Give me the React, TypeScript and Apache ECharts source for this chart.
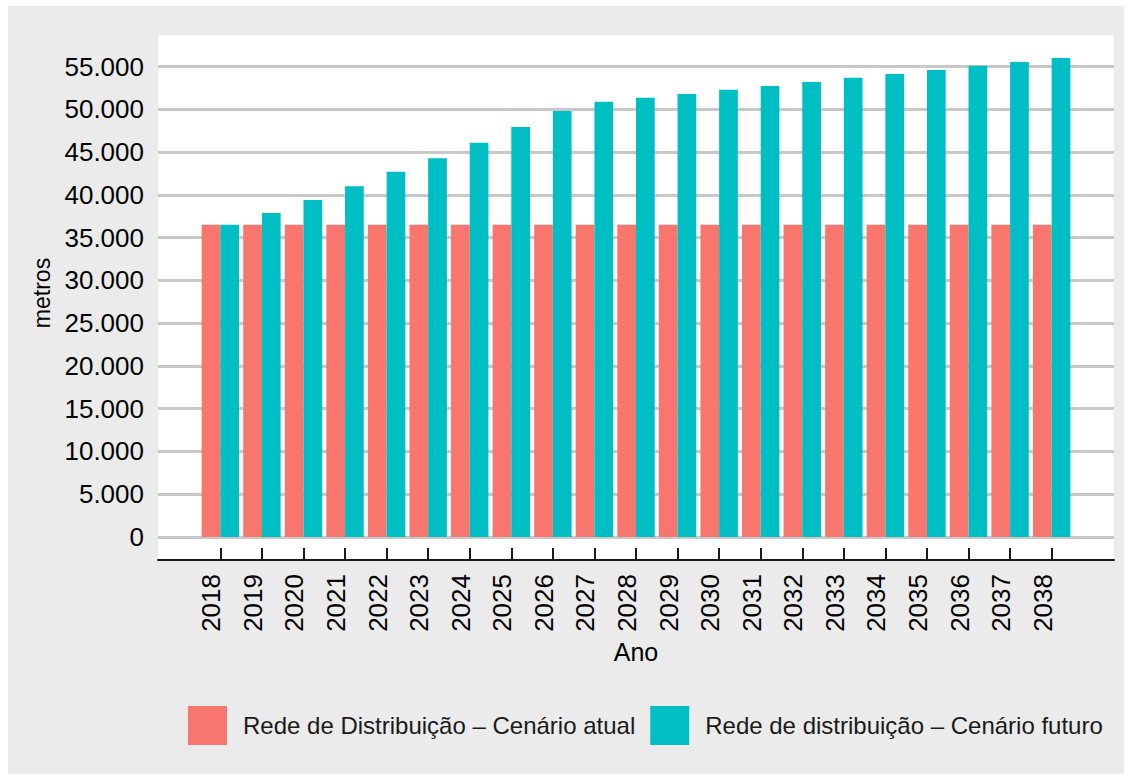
import React, { useEffect, useRef } from "react";
import * as echarts from "echarts";

const years = [
  "2018", "2019", "2020", "2021", "2022", "2023", "2024", "2025", "2026", "2027", "2028",
  "2029", "2030", "2031", "2032", "2033", "2034", "2035", "2036", "2037", "2038",
];
const cenarioAtual = [
  36500, 36500, 36500, 36500, 36500, 36500, 36500, 36500, 36500, 36500, 36500,
  36500, 36500, 36500, 36500, 36500, 36500, 36500, 36500, 36500, 36500,
];
const cenarioFuturo = [
  36500, 37900, 39400, 41000, 42700, 44300, 46100, 47950, 49800, 50900, 51350,
  51800, 52300, 52750, 53200, 53700, 54150, 54600, 55100, 55550, 56000,
];
const seriesNames = [
  "Rede de Distribuição – Cenário atual",
  "Rede de distribuição – Cenário futuro",
];
const colors = ["#F8766D", "#00BFC4"];

const FONT = "'Liberation Sans', Arial, sans-serif";

function fmt(v: number): string {
  return String(Math.round(v)).replace(/\B(?=(\d{3})+(?!\d))/g, ".");
}

export default function App() {
  const ref = useRef<HTMLDivElement>(null);
  useEffect(() => {
    if (!ref.current) return;
    const chart = echarts.init(ref.current, undefined, { renderer: "svg" });
    const cats = ["", ...years, ""];
    const padData = (a: number[]) => [null, ...a, null];
    chart.setOption({
      animation: false,
      textStyle: { fontFamily: FONT },
      graphic: [
        {
          type: "rect",
          z: -10,
          shape: { x: 150, y: 29, width: 956, height: 525 },
          style: { fill: "#ffffff" },
          silent: true,
        },
      ],
      grid: { left: 150, right: 10, top: 29, bottom: 237, containLabel: false },
      legend: {
        left: 180,
        top: 700,
        padding: 0,
        itemWidth: 39,
        itemHeight: 39,
        itemGap: 15,
        icon: "rect",
        textStyle: { fontSize: 24, color: "#1a1a1a", fontFamily: FONT, padding: [0, 0, 0, 11] },
        data: seriesNames,
      },
      xAxis: {
        type: "category",
        data: cats,
        boundaryGap: true,
        offset: 23,
        name: "Ano",
        nameLocation: "middle",
        nameGap: 71,
        nameTextStyle: { fontSize: 25, color: "#000", fontFamily: FONT },
        axisLine: { show: true, onZero: false, lineStyle: { color: "#1a1a1a", width: 2 } },
        axisTick: {
          show: true,
          inside: true,
          length: 12,
          alignWithLabel: true,
          interval: (_i: number, v: string) => v !== "",
          lineStyle: { color: "#1a1a1a", width: 2 },
        },
        axisLabel: {
          interval: 0,
          rotate: 90,
          margin: 14,
          fontSize: 26,
          color: "#000",
          fontFamily: FONT,
          verticalAlign: "bottom",
          lineHeight: 18,
        },
        splitLine: { show: false },
      },
      yAxis: {
        type: "value",
        min: 0,
        max: 58700,
        interval: 5000,
        name: "metros",
        nameLocation: "middle",
        nameRotate: 90,
        nameGap: 104,
        nameTextStyle: { fontSize: 23, color: "#000", fontFamily: FONT, padding: [0, 14, 0, 0] },
        axisLine: { show: false },
        axisTick: { show: false },
        axisLabel: {
          margin: 14,
          fontSize: 26,
          color: "#000",
          fontFamily: FONT,
          showMaxLabel: false,
          formatter: (v: number) => (v % 5000 === 0 ? fmt(v) : ""),
        },
        splitLine: {
          show: true,
          showMaxLine: false,
          lineStyle: { color: "#c8c8c8", width: 3 },
        },
      },
      series: [
        {
          name: seriesNames[0],
          type: "bar",
          data: padData(cenarioAtual),
          itemStyle: { color: colors[0] },
          barGap: "0%",
          barCategoryGap: "10%",
        },
        {
          name: seriesNames[1],
          type: "bar",
          data: padData(cenarioFuturo),
          itemStyle: { color: colors[1] },
          barGap: "0%",
          barCategoryGap: "10%",
        },
      ],
    });
    return () => chart.dispose();
  }, []);
  return (
    <div
      style={{
        position: "absolute",
        left: 8,
        top: 6,
        width: 1116,
        height: 768,
        background: "#ebebeb",
      }}
    >
      <div ref={ref} style={{ width: 1116, height: 768 }} />
    </div>
  );
}
